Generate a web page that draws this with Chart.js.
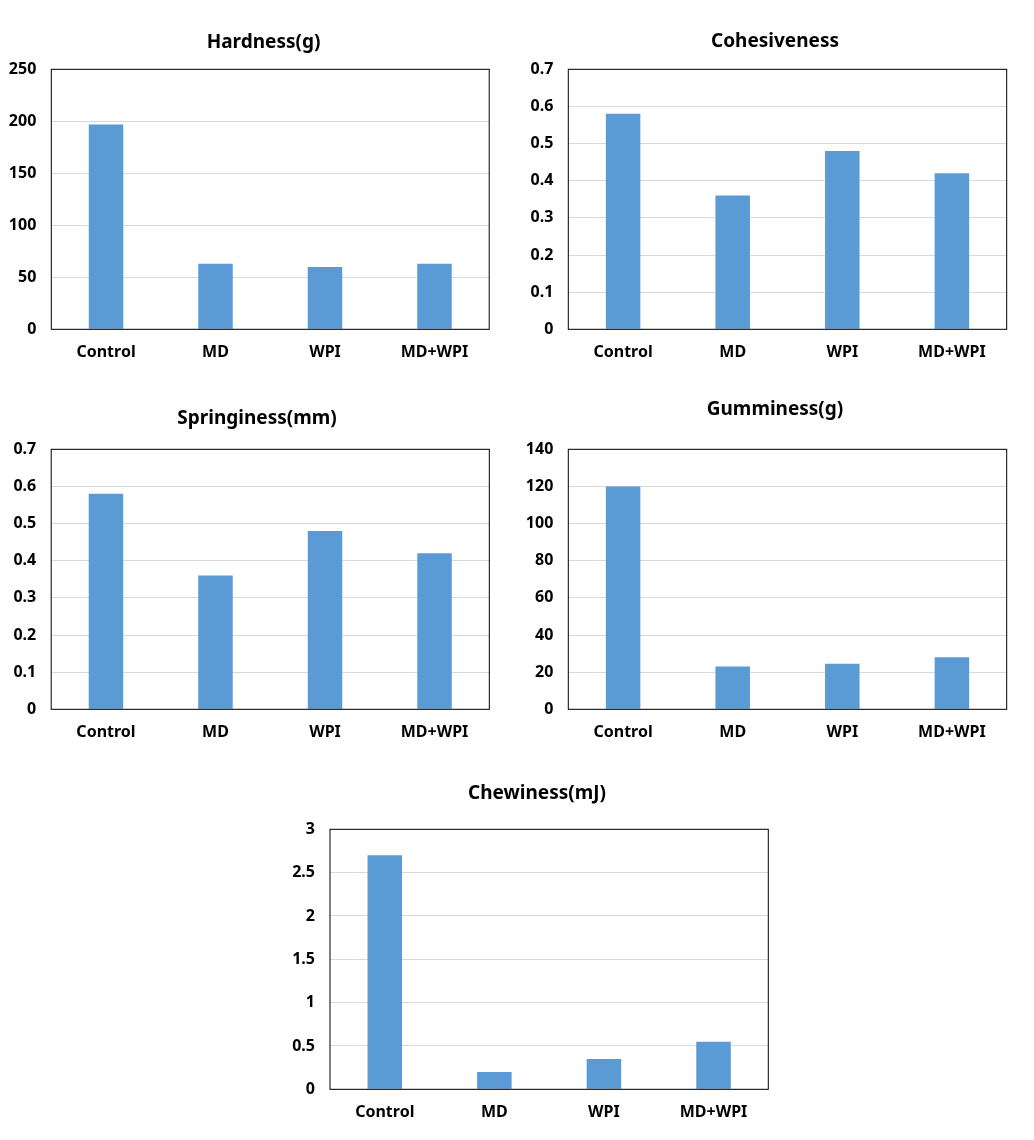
<!DOCTYPE html>
<html>
<head>
<meta charset="utf-8">
<script src="https://cdn.jsdelivr.net/npm/chart.js@4"></script>
<style>
    body { margin: 0; background: #fff; }
    #wrap { position: relative; width: 1034px; height: 1140px; }
    canvas { position: absolute; }
</style>
</head>
<body>
<div id="wrap">
    <canvas id="c1" width="527" height="370" style="left:0px;top:0px"></canvas>
    <canvas id="c2" width="518" height="370" style="left:516px;top:0px"></canvas>
    <canvas id="c3" width="514" height="370" style="left:0px;top:380px"></canvas>
    <canvas id="c4" width="518" height="370" style="left:516px;top:380px"></canvas>
    <canvas id="c5" width="514" height="370" style="left:280px;top:760px"></canvas>
</div>
<script>
// 数据
var categories = ['Control', 'MD', 'WPI', 'MD+WPI'];
var hardness = [197, 63, 60, 63];
var cohesiveness = [0.58, 0.36, 0.48, 0.42];
var springiness = [0.58, 0.36, 0.48, 0.42];
var gumminess = [120, 23, 24.5, 28];
var chewiness = [2.7, 0.2, 0.35, 0.55];

var FONT = '"Noto Sans", "Open Sans", sans-serif';

// 外框
var framePlugin = {
    id: 'frame',
    afterDraw: function(chart) {
        var a = chart.chartArea;
        var ctx = chart.ctx;
        ctx.save();
        ctx.strokeStyle = '#000';
        ctx.lineWidth = 1;
        ctx.strokeRect(a.left, a.top, a.right - a.left, a.bottom - a.top);
        ctx.restore();
    }
};

// 柱状图
function makeChart(id, title, values, max, step, lay) {
    var el = document.getElementById(id);
    return new Chart(el, {
        type: 'bar',
        data: {
            labels: categories,
            datasets: [{
                data: values,
                backgroundColor: '#5B9BD5',
                borderWidth: 0,
                barPercentage: 0.315,
                categoryPercentage: 1.0,
                yAxisID: 'y'
            }]
        },
        options: {
            responsive: false,
            animation: false,
            layout: { padding: 0 },
            plugins: {
                legend: { display: false },
                tooltip: { enabled: false },
                title: {
                    display: true,
                    text: title,
                    color: '#000',
                    font: { family: FONT, size: 19, weight: 'bold', lineHeight: 1.2 },
                    padding: { top: lay.pt, bottom: lay.pb }
                }
            },
            scales: {
                x: {
                    grid: { display: false },
                    border: { display: false },
                    ticks: { color: '#000', padding: 5.5, font: { family: FONT, size: 16, weight: 'bold' } },
                    afterFit: function(s) { s.height = lay.xh; }
                },
                y: {
                    min: 0,
                    max: max,
                    ticks: {
                        stepSize: step,
                        color: '#000',
                        padding: 15,
                        font: { family: FONT, size: 16, weight: 'bold' },
                        callback: function(v) { return String(+v.toFixed(2)); }
                    },
                    grid: { color: '#D9D9D9', drawTicks: false },
                    border: { display: false },
                    afterFit: function(s) { s.width = lay.yw; }
                },
                yR: {
                    position: 'right',
                    grid: { display: false },
                    border: { display: false },
                    ticks: { display: false },
                    afterFit: function(s) { s.width = lay.rw; }
                }
            }
        },
        plugins: [framePlugin]
    });
}

// 标题字号 19px：行高 22.8
makeChart('c1', 'Hardness(g)', hardness, 250, 50, { pt: 31.3, pb: 15.2, xh: 40.7, yw: 51.3, rw: 37.8 });
makeChart('c2', 'Cohesiveness', cohesiveness, 0.7, 0.1, { pt: 30.3, pb: 16.2, xh: 40.7, yw: 52.3, rw: 27.3 });
makeChart('c3', 'Springiness(mm)', springiness, 0.7, 0.1, { pt: 26.9, pb: 19.6, xh: 40.7, yw: 51.2, rw: 24.7 });
makeChart('c4', 'Gumminess(g)', gumminess, 140, 20, { pt: 18.6, pb: 27.9, xh: 40.7, yw: 52.3, rw: 27.3 });
makeChart('c5', 'Chewiness(mJ)', chewiness, 3, 0.5, { pt: 22.6, pb: 23.9, xh: 40.7, yw: 50, rw: 25.7 });
</script>
</body>
</html>
